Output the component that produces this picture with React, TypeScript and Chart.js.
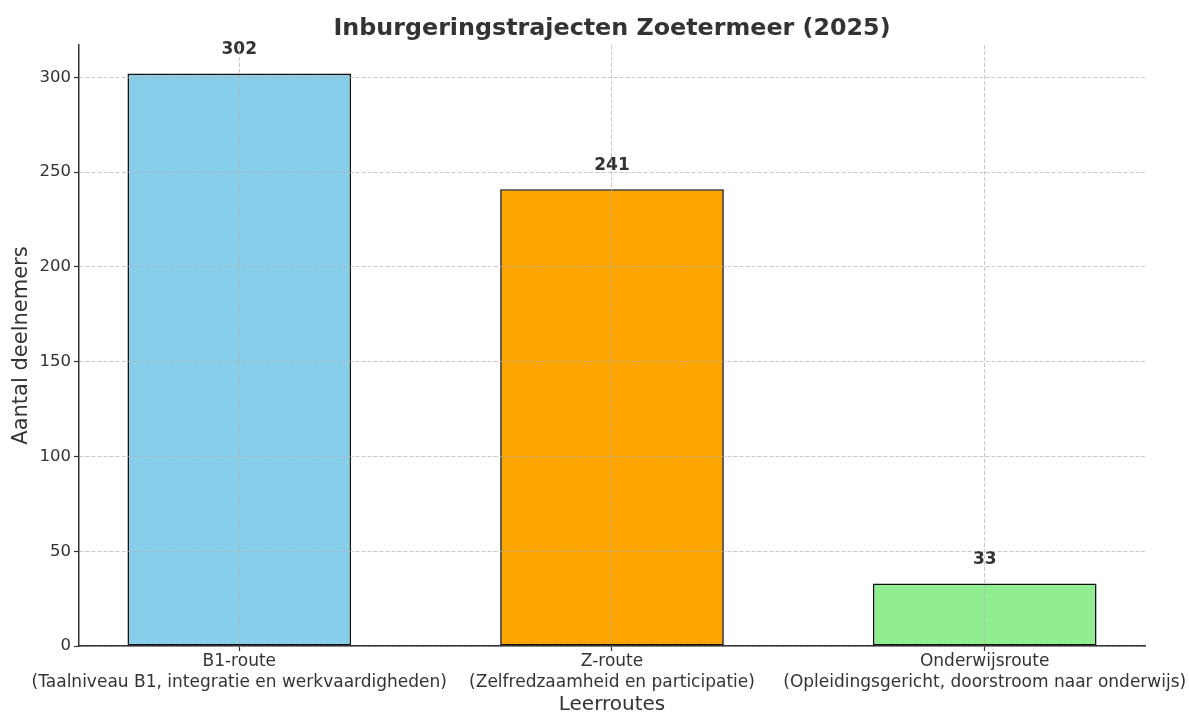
import React, { useEffect, useRef } from "react";
import { Chart, registerables } from "chart.js";

Chart.register(...registerables);

const TITLE = "Inburgeringstrajecten Zoetermeer (2025)";
const categories: string[][] = [
  ["B1-route", "(Taalniveau B1, integratie en werkvaardigheden)"],
  ["Z-route", "(Zelfredzaamheid en participatie)"],
  ["Onderwijsroute", "(Opleidingsgericht, doorstroom naar onderwijs)"],
];
const values: number[] = [302, 241, 33];
const barColors: string[] = ["#87CEEB", "#FFA500", "#90EE90"];
const yTicks: number[] = [0, 50, 100, 150, 200, 250, 300];
const yLabel = "Aantal deelnemers";
const xLabel = "Leerroutes";

const FONT = "'DejaVu Sans', sans-serif";
const TEXT = "#333333";

const overlayPlugin = {
  id: "overlay",
  afterDatasetsDraw(chart: any) {
    const { ctx, chartArea } = chart;
    ctx.save();
    ctx.fillStyle = TEXT;
    ctx.textAlign = "center";
    ctx.textBaseline = "middle";
    ctx.font = `bold 17px ${FONT}`;
    const meta = chart.getDatasetMeta(0);
    meta.data.forEach((bar: any, i: number) => {
      ctx.fillText(String(values[i]), bar.x, bar.y - 24);
    });
    ctx.font = `bold 23.8px ${FONT}`;
    ctx.fillText(TITLE, (chartArea.left + chartArea.right) / 2, 29);
    ctx.restore();
  },
};

const gridOpts = {
  z: 1,
  offset: false,
  color: "rgba(176,176,176,0.7)",
  lineWidth: 1,
  tickColor: "#333333",
  tickBorderDash: [],
  tickLength: 5,
  tickWidth: 1.2,
};
const borderOpts = { display: true, color: "#333333", width: 1.5, z: 2, dash: [4, 2] };

export default function App() {
  const ref = useRef<HTMLCanvasElement | null>(null);
  useEffect(() => {
    if (!ref.current) return;
    const chart = new Chart(ref.current, {
      type: "bar",
      data: {
        datasets: [
          {
            data: values.map((v, i) => ({ x: i, y: v })),
            backgroundColor: barColors,
            borderColor: "#111111",
            borderWidth: 1.6,
            borderSkipped: false,
            barPercentage: 0.6,
            categoryPercentage: 1,
          },
        ],
      },
      plugins: [overlayPlugin],
      options: {
        animation: false,
        responsive: true,
        maintainAspectRatio: false,
        layout: { padding: { top: 45, right: 44, left: 0, bottom: 0 } },
        plugins: {
          legend: { display: false },
          title: { display: false },
          tooltip: { enabled: false },
        },
        scales: {
          x: {
            type: "linear",
            offset: false,
            min: -0.43,
            max: 2.43,
            afterFit: (s: any) => {
              s.height = 67;
              s.paddingLeft = 0;
              s.paddingRight = 0;
            },
            ticks: {
              stepSize: 1,
              includeBounds: false,
              autoSkip: false,
              maxRotation: 0,
              color: TEXT,
              padding: 1,
              font: { family: FONT, size: 17, lineHeight: 1.18 },
              callback: (v: any) =>
                Number.isInteger(v) && categories[v] ? categories[v] : "",
            },
            grid: gridOpts,
            border: borderOpts,
            title: {
              display: true,
              text: xLabel,
              color: TEXT,
              font: { family: FONT, size: 20, lineHeight: 1 },
              padding: { top: 0, bottom: -2 },
            },
          },
          y: {
            type: "linear",
            min: 0,
            max: 317.1,
            afterFit: (s: any) => {
              s.width = 79;
            },
            afterBuildTicks: (s: any) => {
              s.ticks = yTicks.map((v) => ({ value: v }));
            },
            ticks: {
              color: TEXT,
              padding: 3,
              font: { family: FONT, size: 16.5 },
            },
            grid: gridOpts,
            border: borderOpts,
            title: {
              display: true,
              text: yLabel,
              color: TEXT,
              font: { family: FONT, size: 21, lineHeight: 1 },
              padding: { top: 11, bottom: 0 },
            },
          },
        },
      } as any,
    });
    return () => chart.destroy();
  }, []);
  return (
    <div
      style={{
        position: "fixed",
        left: 0,
        top: 0,
        width: 1189,
        height: 713,
        background: "#fff",
      }}
    >
      <canvas ref={ref} />
    </div>
  );
}
